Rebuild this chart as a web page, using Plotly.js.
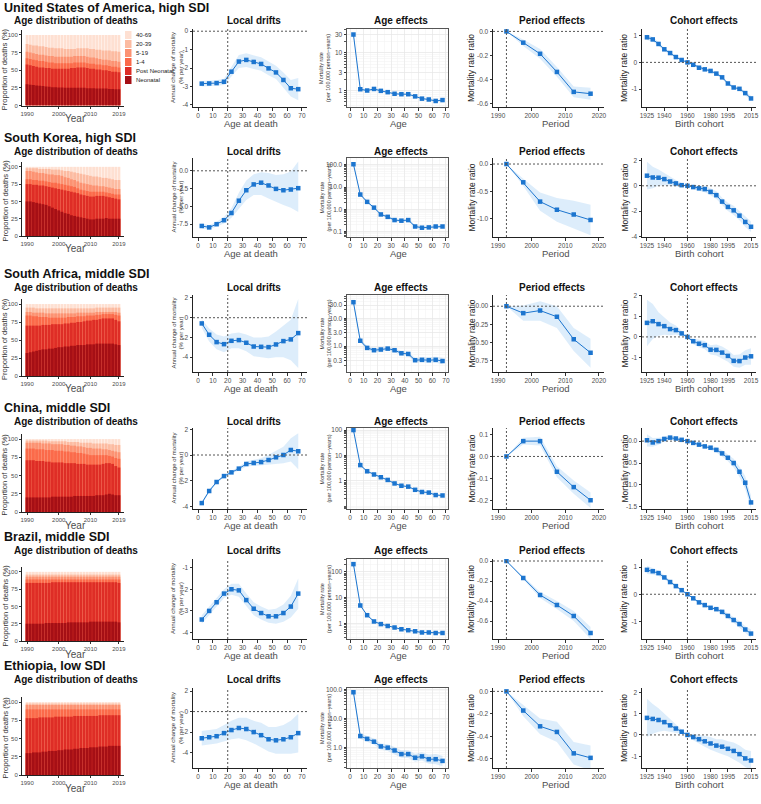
<!DOCTYPE html>
<html><head><meta charset="utf-8">
<script src="https://cdn.plot.ly/plotly-3.0.1.min.js"></script>
<style>html,body{margin:0;padding:0;background:#fff}#chart{width:761px;height:804px}</style>
</head><body><div id="chart"></div>
<script>
// ---------- shared categories ----------
const YEARS = [1990,1991,1992,1993,1994,1995,1996,1997,1998,1999,2000,2001,2002,2003,2004,2005,2006,2007,2008,2009,2010,2011,2012,2013,2014,2015,2016,2017,2018,2019];
const AGE_MID = [2.5,7.5,12.5,17.5,22.5,27.5,32.5,37.5,42.5,47.5,52.5,57.5,62.5,67.5];
const PERIODS = [1992.5,1997.5,2002.5,2007.5,2012.5,2017.5];
const COHORTS = [1925,1930,1935,1940,1945,1950,1955,1960,1965,1970,1975,1980,1985,1990,1995,2000,2005,2010,2015];
const AGE_GROUPS = ['Neonatal','Post Neonatal','1-4','5-19','20-39','40-69'];

// ---------- age distribution: cumulative upper edge (%) of each stacked group ----------
const US_NEO  = [30,29.5,29,28.5,28,27.5,27,26.5,26,26,25.5,25.5,25,25,25,25,25,25,25,24.5,24.5,24.5,24,24,24,24,23.5,23.5,23,23];
const US_POST = [58,57,56,55,54,54,53,53,52,52,52,52,52,52,53,53,54,54,54,53,52,52,51,51,50,50,49,48,48,47];
const US_C14  = [67,66,65,64,63,63,62,61,61,60,60,60,60,60,60,61,61,61,61,60,59,59,58,58,57,57,56,55,55,54];
const US_C519 = [76,75,74,73,72,72,71,70,70,69,69,69,69,69,69,70,70,70,70,69,68,68,67,66,65,65,64,63,63,62];
const US_C2039= [87,86,85,85,84,84,83,82,82,81,81,81,80,80,80,80,81,81,81,81,80,80,79,79,78,78,78,77,77,76];

const KR_NEO  = [50,50,49,48,47,46,45,43,41,39,37,35,33,32,30,29,28,27,26,25,24,24,25,25,25,26,25,25,25,25];
const KR_POST = [75,75,74,74,73,73,72,71,70,69,68,67,66,65,64,63,62,60,59,58,57,57,58,58,58,57,56,55,54,53];
const KR_C14  = [82,82,81,81,80,80,79,78,77,77,76,75,74,73,72,71,69,67,66,65,64,64,64,64,64,63,62,61,60,60];
const KR_C519 = [94,94,93,92,91,91,90,89,89,88,88,87,85,84,82,81,79,77,76,75,74,73,73,72,72,71,70,69,68,68];
const KR_C2039= [98,98,98,98,97,97,97,97,96,96,96,95,94,94,93,92,91,90,89,88,87,86,86,85,84,84,83,82,81,81];

const ZA_NEO  = [32,33,34,35,36,37,37,38,38,39,40,40,41,41,42,42,43,43,43,44,44,44,45,45,45,45,45,45,44,43];
const ZA_POST = [70,70,70,70,70,71,71,71,72,72,72,72,73,73,74,74,75,75,76,77,77,78,78,79,80,80,80,80,78,76];
const ZA_C14  = [84,84,83,83,82,82,82,81,81,81,81,81,81,82,82,82,83,83,83,84,84,84,85,85,86,86,86,86,85,84];
const ZA_C519 = [89,89,88,88,88,88,87,87,87,87,87,87,87,87,87,87,88,88,88,88,88,88,89,89,89,89,89,89,89,88];
const ZA_C2039= [95,95,95,94,94,94,94,94,94,94,94,94,94,94,94,94,94,94,94,94,94,94,95,95,95,95,95,95,95,95];

const CN_NEO  = [20,20,20,20,20,20,20,20,21,21,21,21,21,21,21,22,22,22,22,22,22,22,23,23,23,24,25,24,23,23];
const CN_POST = [71,71,71,70,70,70,69,69,68,68,68,68,67,67,67,67,66,66,66,65,65,65,65,65,66,67,67,66,63,61];
const CN_C14  = [87,87,87,86,86,86,85,85,85,84,84,84,83,83,82,82,81,81,80,79,78,78,78,78,78,78,77,76,74,73];
const CN_C519 = [95,95,95,95,95,94,94,94,93,93,93,93,92,92,91,91,90,90,89,88,88,87,87,87,86,86,85,84,83,82];
const CN_C2039= [98,98,98,98,98,98,98,97,97,97,97,97,97,96,96,96,96,95,95,95,95,94,94,94,94,94,93,93,92,92];

const BR_NEO  = [25,25,25,25,25,25,26,26,26,26,26,26,26,27,27,27,27,27,27,27,28,28,28,28,28,28,28,28,28,27];
const BR_POST = [84,84,84,84,84,84,84,84,85,85,85,85,85,85,85,85,85,85,85,85,85,85,85,85,85,85,85,85,85,84];
const BR_C14  = [89,89,89,89,89,89,89,89,89,89,89,89,89,89,89,89,89,89,89,89,89,89,89,89,89,89,89,89,89,89];
const BR_C519 = [93,93,93,93,93,93,93,93,93,93,93,93,93,93,93,93,93,93,93,93,93,93,93,93,93,93,93,93,93,93];
const BR_C2039= [96,96,96,96,96,96,96,96,96,96,96,96,96,96,96,96,96,96,96,96,96,96,96,96,96,96,96,96,96,96];

const ET_NEO  = [30,30,31,31,31,32,32,33,33,33,34,34,35,35,35,36,36,37,37,37,38,38,38,39,39,39,40,40,40,40];
const ET_POST = [78,78,78,78,79,79,79,79,79,80,80,80,80,80,80,81,81,81,81,81,81,81,81,82,82,82,82,82,82,82];
const ET_C14  = [90,90,90,90,90,90,90,90,90,90,90,90,90,90,90,90,90,90,90,90,90,90,90,90,90,90,90,90,90,90];
const ET_C519 = [96,96,96,96,96,96,96,96,96,96,96,96,96,96,96,96,96,96,96,96,96,96,96,96,96,96,96,96,96,96];
const ET_C2039= [98,98,98,98,98,98,98,98,98,98,98,98,98,98,98,98,98,98,98,98,98,98,98,98,98,98,98,98,98,98];

// ---------- local drifts (% per year) ----------
const US_DRIFT    = [-2.85,-2.84,-2.82,-2.75,-2.2,-1.65,-1.56,-1.67,-1.78,-2.02,-2.24,-2.65,-3.1,-3.15];
const US_DRIFT_LO = [-3.0,-2.98,-2.97,-2.92,-2.45,-2.0,-1.95,-2.05,-2.15,-2.4,-2.6,-3.05,-3.55,-3.75];
const US_DRIFT_HI = [-2.7,-2.7,-2.67,-2.58,-1.95,-1.3,-1.2,-1.3,-1.42,-1.65,-1.88,-2.25,-2.65,-2.55];
const KR_DRIFT    = [-7.75,-7.95,-7.5,-6.94,-5.93,-4.2,-2.73,-1.91,-1.67,-2.06,-2.54,-2.73,-2.63,-2.44];
const KR_DRIFT_LO = [-8.1,-8.25,-7.85,-7.4,-6.6,-5.3,-4.1,-3.4,-3.4,-3.9,-4.4,-4.8,-5.2,-5.8];
const KR_DRIFT_HI = [-7.4,-7.65,-7.15,-6.5,-5.25,-3.1,-1.35,-0.5,-0.2,-0.3,-0.6,-0.5,-0.1,1.3];
const ZA_DRIFT    = [-0.58,-1.73,-2.47,-2.68,-2.34,-2.27,-2.54,-2.92,-2.95,-2.98,-2.71,-2.37,-2.2,-1.56];
const ZA_DRIFT_LO = [-1.05,-2.4,-3.2,-3.5,-3.1,-3.1,-3.4,-3.9,-4.0,-4.1,-4.0,-4.0,-4.3,-5.1];
const ZA_DRIFT_HI = [-0.15,-1.1,-1.7,-1.9,-1.6,-1.5,-1.7,-2.0,-2.0,-1.9,-1.4,-0.8,-0.2,1.9];
const CN_DRIFT    = [-3.74,-2.8,-2.1,-1.64,-1.35,-1.06,-0.7,-0.62,-0.55,-0.39,-0.18,0,0.39,0.29];
const CN_DRIFT_LO = [-3.85,-2.9,-2.2,-1.74,-1.47,-1.2,-0.9,-0.87,-0.85,-0.8,-0.7,-0.65,-0.5,-1.1];
const CN_DRIFT_HI = [-3.63,-2.7,-2.0,-1.54,-1.23,-0.92,-0.5,-0.37,-0.25,0.02,0.34,0.65,1.3,1.7];
const BR_DRIFT    = [-3.4,-3.0,-2.6,-2.2,-2.0,-2.05,-2.5,-2.9,-3.1,-3.25,-3.25,-3.1,-2.8,-2.2];
const BR_DRIFT_LO = [-3.6,-3.2,-2.8,-2.4,-2.25,-2.35,-2.8,-3.2,-3.4,-3.55,-3.6,-3.5,-3.3,-2.9];
const BR_DRIFT_HI = [-3.2,-2.8,-2.4,-2.0,-1.75,-1.75,-2.2,-2.6,-2.8,-2.95,-2.9,-2.7,-2.3,-1.5];
const ET_DRIFT    = [-2.6,-2.5,-2.4,-2.1,-1.8,-1.6,-1.7,-2.0,-2.3,-2.7,-2.8,-2.7,-2.5,-2.1];
const ET_DRIFT_LO = [-3.3,-3.2,-3.1,-2.9,-2.7,-2.6,-2.8,-3.1,-3.5,-3.9,-4.1,-4.1,-4.1,-4.0];
const ET_DRIFT_HI = [-1.9,-1.8,-1.7,-1.3,-0.9,-0.6,-0.6,-0.9,-1.1,-1.5,-1.5,-1.3,-0.9,-0.2];

// ---------- age effects (per 100,000 person-years) ----------
const US_AGE    = [30,1.08,1.0,1.1,0.98,0.905,0.82,0.8,0.8,0.7,0.61,0.58,0.53,0.56];
const US_AGE_LO = [28.5,1.02,0.95,1.04,0.93,0.86,0.78,0.76,0.76,0.66,0.58,0.55,0.5,0.53];
const US_AGE_HI = [31.5,1.14,1.05,1.16,1.03,0.95,0.86,0.84,0.84,0.74,0.64,0.61,0.56,0.59];
const KR_AGE    = [105,4.6,2.16,1.19,0.59,0.46,0.33,0.31,0.33,0.17,0.15,0.155,0.17,0.17];
const KR_AGE_LO = [96,4.2,1.95,1.07,0.53,0.41,0.29,0.27,0.29,0.15,0.13,0.135,0.145,0.145];
const KR_AGE_HI = [115,5.0,2.4,1.32,0.66,0.52,0.38,0.36,0.38,0.2,0.175,0.18,0.2,0.2];
const ZA_AGE    = [37.8,1.55,0.86,0.71,0.75,0.81,0.71,0.55,0.52,0.31,0.32,0.31,0.32,0.29];
const ZA_AGE_LO = [34,1.35,0.74,0.61,0.64,0.69,0.6,0.47,0.44,0.26,0.26,0.25,0.25,0.22];
const ZA_AGE_HI = [42,1.78,1.0,0.83,0.88,0.95,0.84,0.65,0.62,0.37,0.39,0.39,0.41,0.38];
const CN_AGE    = [100,4.2,2.4,1.8,1.4,1.1,0.8,0.65,0.6,0.45,0.37,0.35,0.28,0.27];
const CN_AGE_LO = [95,3.9,2.25,1.7,1.32,1.03,0.75,0.61,0.56,0.42,0.34,0.32,0.25,0.24];
const CN_AGE_HI = [105,4.5,2.55,1.9,1.48,1.17,0.85,0.69,0.64,0.48,0.4,0.38,0.31,0.3];
const BR_AGE    = [200,5,2.1,1.2,0.95,0.8,0.7,0.6,0.55,0.5,0.45,0.45,0.43,0.43];
const BR_AGE_LO = [190,4.7,2.0,1.13,0.89,0.75,0.66,0.56,0.51,0.47,0.42,0.42,0.4,0.39];
const BR_AGE_HI = [210,5.3,2.2,1.27,1.01,0.85,0.74,0.64,0.59,0.53,0.48,0.48,0.46,0.47];
const ET_AGE    = [80,2.5,2.0,1.6,1.1,1.0,0.8,0.6,0.6,0.45,0.5,0.4,0.4,0.35];
const ET_AGE_LO = [70,2.0,1.6,1.25,0.85,0.77,0.6,0.45,0.44,0.33,0.36,0.28,0.27,0.23];
const ET_AGE_HI = [92,3.1,2.5,2.05,1.4,1.3,1.05,0.8,0.82,0.62,0.7,0.57,0.6,0.53];

// ---------- period effects (rate ratio, log scale) ----------
const US_PER    = [0,-0.093,-0.185,-0.335,-0.5,-0.515];
const US_PER_LO = [0,-0.12,-0.225,-0.375,-0.545,-0.565];
const US_PER_HI = [0,-0.066,-0.145,-0.295,-0.455,-0.465];
const KR_PER    = [0,-0.333,-0.685,-0.833,-0.92,-1.02];
const KR_PER_LO = [0,-0.4,-0.85,-1.05,-1.17,-1.3];
const KR_PER_HI = [0,-0.27,-0.52,-0.62,-0.67,-0.74];
const ZA_PER    = [0,-0.096,-0.06,-0.146,-0.457,-0.644];
const ZA_PER_LO = [0,-0.2,-0.2,-0.3,-0.62,-0.85];
const ZA_PER_HI = [0,0.01,0.07,0.0,-0.3,-0.45];
const CN_PER    = [0,0.07,0.07,-0.07,-0.14,-0.2];
const CN_PER_LO = [0,0.055,0.05,-0.095,-0.17,-0.235];
const CN_PER_HI = [0,0.085,0.09,-0.045,-0.11,-0.165];
const BR_PER    = [0,-0.17,-0.34,-0.44,-0.55,-0.72];
const BR_PER_LO = [0,-0.19,-0.37,-0.48,-0.6,-0.78];
const BR_PER_HI = [0,-0.15,-0.31,-0.4,-0.5,-0.66];
const ET_PER    = [0,-0.17,-0.31,-0.36,-0.55,-0.59];
const ET_PER_LO = [0,-0.22,-0.38,-0.45,-0.65,-0.7];
const ET_PER_HI = [0,-0.12,-0.24,-0.27,-0.45,-0.48];

// ---------- cohort effects (rate ratio, log scale) ----------
const US_COH    = [0.94,0.86,0.69,0.49,0.35,0.2,0.09,0,-0.09,-0.2,-0.26,-0.32,-0.42,-0.56,-0.79,-0.94,-0.99,-1.15,-1.35];
const US_COH_LO = [0.84,0.78,0.62,0.43,0.3,0.16,0.06,0,-0.12,-0.24,-0.3,-0.37,-0.47,-0.62,-0.85,-1.0,-1.06,-1.23,-1.45];
const US_COH_HI = [1.04,0.94,0.76,0.55,0.4,0.24,0.12,0,-0.06,-0.16,-0.22,-0.27,-0.37,-0.5,-0.73,-0.88,-0.92,-1.07,-1.25];
const KR_COH    = [0.8,0.66,0.64,0.53,0.34,0.19,0.05,0,-0.1,-0.2,-0.26,-0.48,-0.74,-1.25,-1.67,-1.94,-2.36,-2.86,-3.24];
const KR_COH_LO = [-0.3,-0.2,0.0,0.05,0.0,-0.05,-0.1,0,-0.25,-0.4,-0.5,-0.75,-1.05,-1.55,-2.0,-2.3,-2.72,-3.25,-3.65];
const KR_COH_HI = [1.9,1.5,1.3,1.0,0.7,0.45,0.22,0,0.05,0.0,-0.02,-0.2,-0.43,-0.95,-1.34,-1.58,-2.0,-2.47,-2.83];
const ZA_COH    = [0.68,0.76,0.62,0.52,0.38,0.33,0.17,0,-0.21,-0.33,-0.4,-0.62,-0.63,-0.76,-0.92,-1.16,-1.17,-1.0,-0.94];
const ZA_COH_LO = [-0.45,-0.1,0.05,0.1,0.08,0.12,0.05,0,-0.35,-0.5,-0.6,-0.85,-0.9,-1.05,-1.2,-1.45,-1.5,-1.35,-1.35];
const ZA_COH_HI = [1.8,1.6,1.2,0.95,0.7,0.55,0.3,0,-0.07,-0.16,-0.2,-0.4,-0.37,-0.47,-0.64,-0.88,-0.85,-0.65,-0.55];
const CN_COH    = [0.02,-0.03,0.0,0.05,0.08,0.06,0.03,0,-0.04,-0.08,-0.12,-0.15,-0.2,-0.28,-0.38,-0.5,-0.7,-0.95,-1.4];
const CN_COH_LO = [-0.12,-0.13,-0.08,-0.01,0.03,0.02,0.01,0,-0.06,-0.11,-0.16,-0.2,-0.26,-0.35,-0.46,-0.6,-0.82,-1.1,-1.55];
const CN_COH_HI = [0.16,0.07,0.08,0.11,0.13,0.1,0.05,0,-0.02,-0.05,-0.08,-0.1,-0.14,-0.21,-0.3,-0.4,-0.58,-0.8,-1.25];
const BR_COH    = [0.9,0.85,0.78,0.62,0.45,0.3,0.15,0,-0.15,-0.3,-0.4,-0.5,-0.55,-0.65,-0.8,-0.95,-1.1,-1.3,-1.45];
const BR_COH_LO = [0.75,0.73,0.68,0.54,0.39,0.26,0.13,0,-0.18,-0.34,-0.45,-0.56,-0.62,-0.73,-0.89,-1.05,-1.21,-1.42,-1.6];
const BR_COH_HI = [1.05,0.97,0.88,0.7,0.51,0.34,0.17,0,-0.12,-0.26,-0.35,-0.44,-0.48,-0.57,-0.71,-0.85,-0.99,-1.18,-1.3];
const ET_COH    = [0.8,0.75,0.7,0.6,0.45,0.3,0.15,0,-0.1,-0.2,-0.3,-0.4,-0.5,-0.55,-0.65,-0.75,-0.9,-1.1,-1.2];
const ET_COH_LO = [-0.1,0.05,0.15,0.2,0.15,0.1,0.05,0,-0.25,-0.4,-0.55,-0.7,-0.8,-0.9,-1.0,-1.15,-1.3,-1.5,-1.65];
const ET_COH_HI = [1.7,1.45,1.25,1.0,0.75,0.5,0.25,0,0.05,0.0,-0.05,-0.1,-0.2,-0.2,-0.3,-0.35,-0.5,-0.7,-0.75];

const ROWS = [
 {name:'United States of America, high SDI', dist:[US_NEO,US_POST,US_C14,US_C519,US_C2039], drift:[US_DRIFT,US_DRIFT_LO,US_DRIFT_HI], age:[US_AGE,US_AGE_LO,US_AGE_HI], per:[US_PER,US_PER_LO,US_PER_HI], coh:[US_COH,US_COH_LO,US_COH_HI]},
 {name:'South Korea, high SDI', dist:[KR_NEO,KR_POST,KR_C14,KR_C519,KR_C2039], drift:[KR_DRIFT,KR_DRIFT_LO,KR_DRIFT_HI], age:[KR_AGE,KR_AGE_LO,KR_AGE_HI], per:[KR_PER,KR_PER_LO,KR_PER_HI], coh:[KR_COH,KR_COH_LO,KR_COH_HI]},
 {name:'South Africa, middle SDI', dist:[ZA_NEO,ZA_POST,ZA_C14,ZA_C519,ZA_C2039], drift:[ZA_DRIFT,ZA_DRIFT_LO,ZA_DRIFT_HI], age:[ZA_AGE,ZA_AGE_LO,ZA_AGE_HI], per:[ZA_PER,ZA_PER_LO,ZA_PER_HI], coh:[ZA_COH,ZA_COH_LO,ZA_COH_HI]},
 {name:'China, middle SDI', dist:[CN_NEO,CN_POST,CN_C14,CN_C519,CN_C2039], drift:[CN_DRIFT,CN_DRIFT_LO,CN_DRIFT_HI], age:[CN_AGE,CN_AGE_LO,CN_AGE_HI], per:[CN_PER,CN_PER_LO,CN_PER_HI], coh:[CN_COH,CN_COH_LO,CN_COH_HI]},
 {name:'Brazil, middle SDI', dist:[BR_NEO,BR_POST,BR_C14,BR_C519,BR_C2039], drift:[BR_DRIFT,BR_DRIFT_LO,BR_DRIFT_HI], age:[BR_AGE,BR_AGE_LO,BR_AGE_HI], per:[BR_PER,BR_PER_LO,BR_PER_HI], coh:[BR_COH,BR_COH_LO,BR_COH_HI]},
 {name:'Ethiopia, low SDI', dist:[ET_NEO,ET_POST,ET_C14,ET_C519,ET_C2039], drift:[ET_DRIFT,ET_DRIFT_LO,ET_DRIFT_HI], age:[ET_AGE,ET_AGE_LO,ET_AGE_HI], per:[ET_PER,ET_PER_LO,ET_PER_HI], coh:[ET_COH,ET_COH_LO,ET_COH_HI]}
];

// ---------- layout geometry (pixels) ----------
const W = 761, H = 804;
const FONT = 'Liberation Sans, Arial, sans-serif';
const REDS = ['#A50F15','#DE2D26','#FB6A4A','#FC9272','#FCBBA1','#FEE0D2'];
const BLUE = '#1C75CF';
const BAND = 'rgba(30,136,229,0.15)';
const COLX = [[22,124],[193,307],[347,448],[493,604],[642,756]];
const TITLE_CX = [76, 254, 401, 552, 704];
const XT_CX = [75, 251, 399, 555, 699];
const G = [
 {cy:8, ty:20, st:[30,105.5], ar:[29,107],
  drift:{r:[-4.12,0.12], v:[0,-1,-2,-3,-4], t:['0','-1','-2','-3','-4']},
  age:{r:[-0.435,1.623], v:[1,3,10,30], t:['1','3','10','30']},
  per:{r:[-0.625,0.02], v:[0,-0.2,-0.4,-0.6], t:['0.0','-0.2','-0.4','-0.6']},
  coh:{r:[-1.67,1.25], v:[1,0,-1], t:['1','0','-1']}},
 {cy:138, ty:151, st:[162,236], ar:[158,237],
  drift:{r:[-9.3,1.8], v:[0,-2.5,-5,-7.5], t:['0.0','-2.5','-5.0','-7.5']},
  age:{r:[-1.24,2.3], v:[0.1,1,10,100], t:['0.1','1.0','10.0','100.0']},
  per:{r:[-1.33,0.11], v:[0,-0.5,-1], t:['0.0','-0.5','-1.0']},
  coh:{r:[-4.05,2.2], v:[2,0,-2,-4], t:['2','0','-2','-4']}},
 {cy:274, ty:287, st:[299,376], ar:[295,372],
  drift:{r:[-5.5,2.3], v:[2,0,-2,-4], t:['2','0','-2','-4']},
  age:{r:[-0.933,1.837], v:[0.3,1,3,10,30], t:['0.3','1.0','3.0','10.0','30.0']},
  per:{r:[-0.91,0.155], v:[0,-0.25,-0.5,-0.75], t:['0.00','-0.25','-0.50','-0.75']},
  coh:{r:[-1.7,2.03], v:[2,1,0,-1], t:['2','1','0','-1']}},
 {cy:408, ty:421, st:[434,512], ar:[428,509],
  drift:{r:[-4.2,2.1], v:[2,0,-2,-4], t:['2','0','-2','-4']},
  age:{r:[-1.1,2.08], v:[1,10,100], t:['1','10','100']},
  per:{r:[-0.24,0.13], v:[0.1,0,-0.1,-0.2], t:['0.1','0.0','-0.1','-0.2']},
  coh:{r:[-1.55,0.3], v:[0,-0.5,-1,-1.5], t:['0.0','-0.5','-1.0','-1.5']}},
 {cy:537, ty:550, st:[567,641], ar:[559,639],
  drift:{r:[-4.3,-0.6], v:[-1,-2,-3,-4], t:['-1','-2','-3','-4']},
  age:{r:[-0.6,2.5], v:[1,10,100], t:['1','10','100']},
  per:{r:[-0.78,0.02], v:[0,-0.2,-0.4,-0.6], t:['0.0','-0.2','-0.4','-0.6']},
  coh:{r:[-1.65,1.3], v:[1,0,-1], t:['1','0','-1']}},
 {cy:666, ty:679, st:[697,775], ar:[688,768],
  drift:{r:[-5.5,2.3], v:[2,0,-2,-4], t:['2','0','-2','-4']},
  age:{r:[-0.7,2.05], v:[1,10,100], t:['1.0','10.0','100.0']},
  per:{r:[-0.68,0.03], v:[0,-0.2,-0.4,-0.6], t:['0.0','-0.2','-0.4','-0.6']},
  coh:{r:[-1.55,2.2], v:[2,1,0,-1], t:['2','1','0','-1']}}
];

const fx = p => p / W;
const fy = p => 1 - p / H;
const traces = [], shapes = [], annotations = [];
const layout = {width:W, height:H, margin:{l:0,r:0,t:0,b:0}, paper_bgcolor:'#fff', plot_bgcolor:'rgba(0,0,0,0)',
  showlegend:false, barmode:'overlay', bargap:0.12, font:{family:FONT}};

const tickFont = {size:6.5, color:'#4d4d4d', family:FONT};
function classicAxis(extra){
  return Object.assign({showline:true, linecolor:'#222', linewidth:1, ticks:'outside', ticklen:2.5, tickwidth:1,
    tickcolor:'#333', tickfont:tickFont, tickangle:0, showgrid:false, zeroline:false, fixedrange:true, layer:'above traces'}, extra);
}
function bwAxis(extra){
  return Object.assign({showline:true, mirror:true, linecolor:'#555', linewidth:1, ticks:'outside', ticklen:2.5,
    tickcolor:'#333', tickfont:tickFont, tickangle:0, showgrid:true, gridcolor:'#e6e6e6', gridwidth:0.6, zeroline:false, fixedrange:true}, extra);
}
function ann(text, x, y, size, opts){
  annotations.push(Object.assign({text:text, x:fx(x), y:fy(y), xref:'paper', yref:'paper', showarrow:false,
    xanchor:'center', yanchor:'middle', font:{size:size, color:'#222', family:FONT}}, opts||{}));
}
function addLinePanel(xr, yr, xs, vals, lo, hi){
  traces.push({type:'scatter', mode:'lines', x:xs.concat(xs.slice().reverse()), y:hi.concat(lo.slice().reverse()),
    fill:'toself', fillcolor:BAND, line:{width:0}, xaxis:xr, yaxis:yr, hoverinfo:'skip'});
  traces.push({type:'scatter', mode:'lines+markers', x:xs, y:vals, line:{color:BLUE, width:1},
    marker:{symbol:'square', size:4.5, color:BLUE}, xaxis:xr, yaxis:yr});
}
function refLines(xr, yr, xv){
  const dash = {color:'#555', width:1, dash:'2px,2px'};
  shapes.push({type:'line', xref:xr+' domain', x0:0, x1:1, yref:yr, y0:0, y1:0, line:dash, layer:'above'});
  shapes.push({type:'line', xref:xr, x0:xv, x1:xv, yref:yr+' domain', y0:0, y1:1, line:dash, layer:'above'});
}

const TITLES = ['Age distribution of deaths','Local drifts','Age effects','Period effects','Cohort effects'];
const XTITLES = ['Year','Age at death','Age','Period','Birth cohort'];

ROWS.forEach((row, r) => {
  const g = G[r];
  const cy0 = g.ar[0], cy1 = g.ar[1];
  ann('<b>'+row.name+'</b>', 2, g.cy, 12.5, {xanchor:'left', font:{size:12.5, color:'#111', family:FONT}});
  for (let c = 0; c < 5; c++) {
    const idx = r*5 + c + 1;
    const xa = 'xaxis' + (idx===1?'':idx), ya = 'yaxis' + (idx===1?'':idx);
    const xr = 'x' + (idx===1?'':idx), yr = 'y' + (idx===1?'':idx);
    const yd = c===0 ? [fy(g.st[1]), fy(g.st[0])] : [fy(cy1), fy(cy0)];
    const xd = [fx(COLX[c][0]), fx(COLX[c][1])];
    ann('<b>'+TITLES[c]+'</b>', TITLE_CX[c], g.ty, 10, {font:{size:10, color:'#111', family:FONT}});
    const xtY = c===0 ? g.st[1]+13 : cy1+16;
    ann(XTITLES[c], XT_CX[c], xtY, c===0?10:9.5, {font:{size:c===0?10:9.5, color:'#4d4d4d', family:FONT}});
    if (c === 0) {
      layout[xa] = classicAxis({domain:xd, anchor:yr, range:[1988.4,2020.6], tickvals:[1990,2000,2010,2019],
        ticktext:['1990','2000','2010','2019'], ticklen:2, tickfont:{size:6, color:'#4d4d4d', family:FONT}});
      layout[ya] = classicAxis({domain:yd, anchor:xr, range:[0,107], tickvals:[0,25,50,75,100], ticklen:2,
        tickfont:{size:6, color:'#4d4d4d', family:FONT}});
      traces.push({type:'bar', x:YEARS, y:YEARS.map(() => 100), marker:{color:REDS[5], line:{width:0}}, xaxis:xr, yaxis:yr, name:AGE_GROUPS[5]});
      for (let k = 4; k >= 0; k--) {
        traces.push({type:'bar', x:YEARS, y:row.dist[k], marker:{color:REDS[k], line:{width:0}}, xaxis:xr, yaxis:yr, name:AGE_GROUPS[k]});
      }
      ann('Proportion of deaths (%)', 4.5, (g.st[0]+g.st[1])/2+2, 7.5, {textangle:-90, font:{size:7.5, color:'#333', family:FONT}});
    } else if (c === 1) {
      layout[xa] = classicAxis({domain:xd, anchor:yr, range:[-3.4,73.4], tickvals:[0,10,20,30,40,50,60,70]});
      layout[ya] = classicAxis({domain:yd, anchor:xr, range:g.drift.r, tickvals:g.drift.v, ticktext:g.drift.t});
      addLinePanel(xr, yr, AGE_MID, row.drift[0], row.drift[1], row.drift[2]);
      refLines(xr, yr, 20);
      ann('Annual change of mortality<br>(% per year)', 177, (cy0+cy1)/2, 6, {textangle:-90, font:{size:6, color:'#333', family:FONT}});
    } else if (c === 2) {
      layout[xa] = bwAxis({domain:xd, anchor:yr, range:[-2.2,71.5], tickvals:[0,10,20,30,40,50,60,70],
        minor:{dtick:5, tick0:0, showgrid:true, gridcolor:'#f2f2f2', gridwidth:0.5}});
      layout[ya] = bwAxis({domain:yd, anchor:xr, type:'log', range:g.age.r, tickvals:g.age.v, ticktext:g.age.t,
        minor:{ticks:'outside', ticklen:2, tickcolor:'#555', showgrid:true, gridcolor:'#f2f2f2', gridwidth:0.5, dtick:'D1'}});
      addLinePanel(xr, yr, AGE_MID, row.age[0], row.age[1], row.age[2]);
      ann('Mortality rate<br>(per 100,000 person−years)', 325, (cy0+cy1)/2, 5.5, {textangle:-90, font:{size:5.5, color:'#333', family:FONT}});
    } else if (c === 3) {
      layout[xa] = classicAxis({domain:xd, anchor:yr, range:[1988.5,2021.5], tickvals:[1990,2000,2010,2020]});
      layout[ya] = classicAxis({domain:yd, anchor:xr, range:g.per.r, tickvals:g.per.v, ticktext:g.per.t});
      addLinePanel(xr, yr, PERIODS, row.per[0], row.per[1], row.per[2]);
      refLines(xr, yr, 1992.5);
      ann('Mortality rate ratio', 471, (cy0+cy1)/2, 8.5, {textangle:-90, font:{size:8.5, color:'#222', family:FONT}});
    } else {
      layout[xa] = classicAxis({domain:xd, anchor:yr, range:[1920.7,2019.3], tickvals:[1925,1940,1960,1980,1995,2015]});
      layout[ya] = classicAxis({domain:yd, anchor:xr, range:g.coh.r, tickvals:g.coh.v, ticktext:g.coh.t});
      addLinePanel(xr, yr, COHORTS, row.coh[0], row.coh[1], row.coh[2]);
      refLines(xr, yr, 1960);
      ann('Mortality rate ratio', 624, (cy0+cy1)/2, 8.5, {textangle:-90, font:{size:8.5, color:'#222', family:FONT}});
    }
  }
});

// manual legend for the first age-distribution panel
const LEG_Y = [35,44,53,62,71,80];
for (let i = 0; i < 6; i++) {
  const k = 5 - i;
  shapes.push({type:'rect', xref:'paper', yref:'paper', x0:fx(125), x1:fx(131.5), y0:fy(LEG_Y[i]+4), y1:fy(LEG_Y[i]-4),
    fillcolor:REDS[k], line:{width:0}});
  ann(AGE_GROUPS[k], 133.5, LEG_Y[i], 6, {xanchor:'left', font:{size:6, color:'#222', family:FONT}});
}

layout.shapes = shapes;
layout.annotations = annotations;
Plotly.newPlot('chart', traces, layout, {displayModeBar:false, staticPlot:true});
</script></body></html>
